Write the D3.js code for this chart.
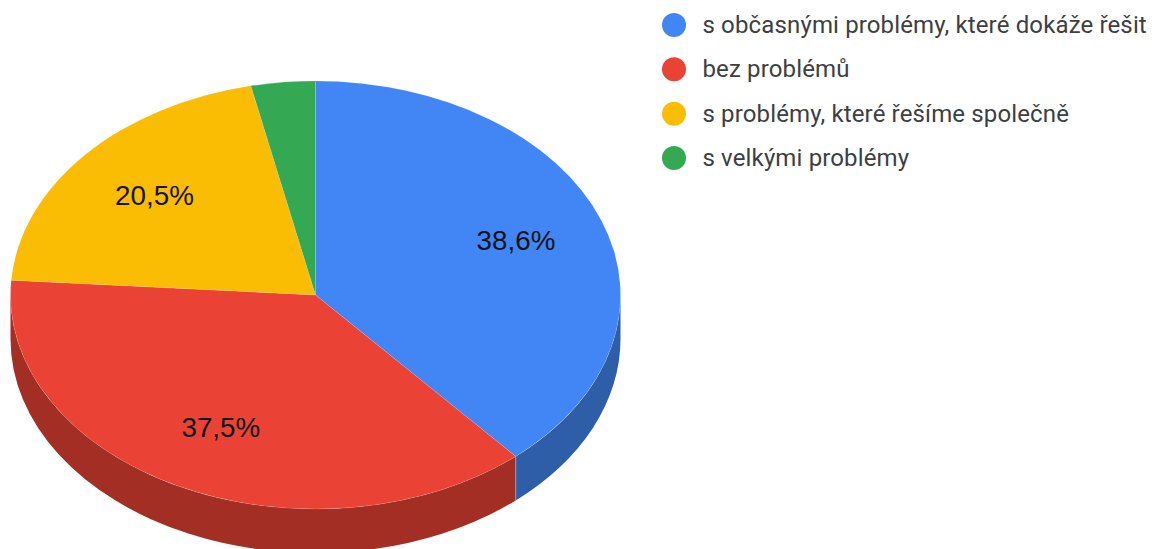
<!DOCTYPE html>
<html><head><meta charset="utf-8">
<script src="https://cdn.jsdelivr.net/npm/d3@7/dist/d3.min.js"></script>
<style>html,body{margin:0;padding:0;background:#fff;overflow:hidden}svg{display:block}</style>
</head><body><svg id="c" width="1152" height="549"></svg>
<script>
const categories = ["s občasnými problémy, které dokáže řešit","bez problémů","s problémy, které řešíme společně","s velkými problémy"];
const values = [38.6,37.5,20.5,3.4];
const labels = ["38,6%","37,5%","20,5%",""];
const colors = ["#4285f4","#ea4335","#fbbc04","#34a853"];
const sideColors = ["#2f5ea9","#a32e24","#ae8303","#24753a"];

const cx=315.5,cy=295,rx=305,ry=214,depth=44;
const svg=d3.select("#c");
const pie=d3.pie().sort(null).value(d=>d)(values);
const px=a=>cx+rx*Math.sin(a), py=a=>cy-ry*Math.cos(a);

// side wall: only the front half of the ellipse is visible
const lo=Math.PI/2, hi=3*Math.PI/2;
const sides=pie.map((p,i)=>({a0:Math.max(p.startAngle,lo),a1:Math.min(p.endAngle,hi),i})).filter(s=>s.a1>s.a0);
svg.append("g").selectAll("path").data(sides).join("path")
  .attr("d",s=>`M${px(s.a0)},${py(s.a0)}A${rx},${ry} 0 0 1 ${px(s.a1)},${py(s.a1)}L${px(s.a1)},${py(s.a1)+depth}A${rx},${ry} 0 0 0 ${px(s.a0)},${py(s.a0)+depth}Z`)
  .attr("fill",s=>sideColors[s.i]);
// seam between the side walls
svg.append("g").selectAll("line").data(sides.slice(1)).join("line")
  .attr("x1",s=>px(s.a0)).attr("x2",s=>px(s.a0))
  .attr("y1",s=>py(s.a0)).attr("y2",s=>py(s.a0)+depth)
  .attr("stroke","#fff").attr("stroke-opacity",0.3);

// top face
const faces=svg.append("g");
faces.selectAll("path").data(pie).join("path")
  .attr("d",p=>`M${cx},${cy}L${px(p.startAngle)},${py(p.startAngle)}A${rx},${ry} 0 ${p.endAngle-p.startAngle>Math.PI?1:0} 1 ${px(p.endAngle)},${py(p.endAngle)}Z`)
  .attr("fill",(p,i)=>colors[i])
  .attr("stroke","#fff").attr("stroke-opacity",0.12).attr("stroke-width",1);

// percentage labels
const labelRadius=0.7;
svg.append("g").selectAll("text").data(pie).join("text")
  .attr("x",p=>cx+rx*labelRadius*Math.sin((p.startAngle+p.endAngle)/2)+0.5)
  .attr("y",p=>cy-ry*labelRadius*Math.cos((p.startAngle+p.endAngle)/2)-1.5)
  .attr("text-anchor","middle").attr("dominant-baseline","central")
  .attr("font-family","'Liberation Sans',Arial,sans-serif").attr("font-size",27.8)
  .attr("fill","#141414").text((p,i)=>labels[i]);

// legend
const ly=d3.scalePoint().domain(categories).range([25,158]);
const lg=svg.append("g").selectAll("g").data(categories).join("g")
  .attr("transform",d=>`translate(674,${ly(d)})`);
lg.append("circle").attr("r",12).attr("fill",(d,i)=>colors[i]);
lg.append("text").attr("x",28.5).attr("dominant-baseline","central")
  .attr("font-family","Roboto,sans-serif").attr("font-size",24).attr("letter-spacing",0.14).attr("fill","#3c4043").text(d=>d);
</script></body></html>
